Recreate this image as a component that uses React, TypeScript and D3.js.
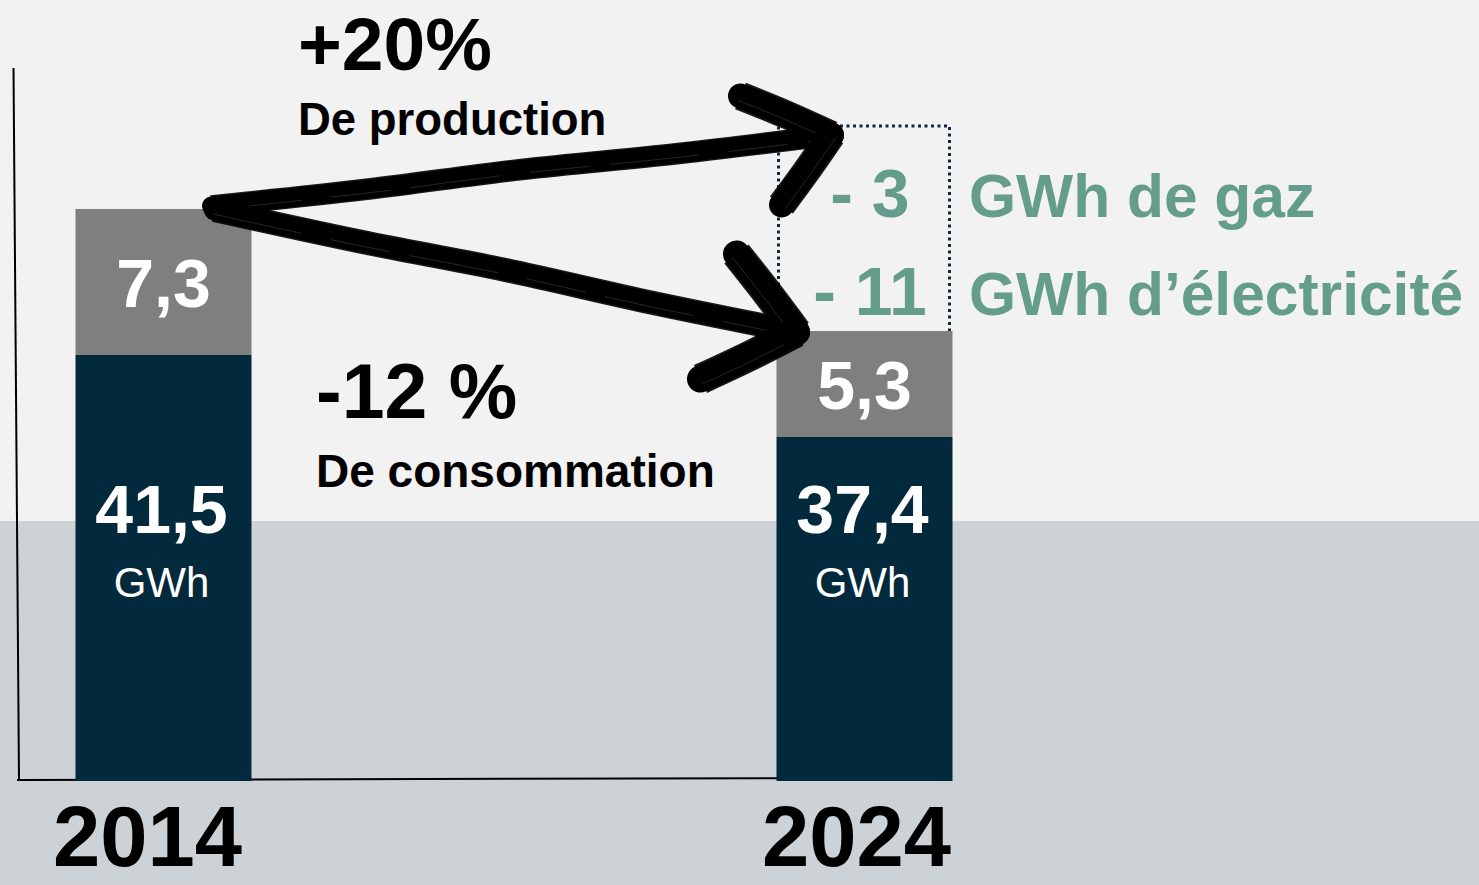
import React from 'react';
import * as d3 from 'd3';

// data
const years = ['2014', '2024'];
const electricite = [41.5, 37.4];
const gaz = [7.3, 5.3];
const unit = 'GWh';
const changeValues = ['+20%', '-12 %'];
const changeLabels = ['De production', 'De consommation'];
const savingValues = ['- 3', '- 11'];
const savingLabels = ['GWh de gaz', 'GWh d\u2019électricité'];

const W = 1479;
const H = 885;
const FONT = '"Liberation Sans", Arial, sans-serif';
const DARK = '#022a3c';
const GREY = '#7f7f7f';
const GREEN = '#659d8c';

const fr = d3.formatLocale({ decimal: ',', thousands: ' ', grouping: [3], currency: ['', ' €'] });
const fmt = fr.format('.1f');

type Pt = [number, number];

// brush-like stroke: a thick black line with a few rough passes
const BrushStroke = ({ pts, w }: { pts: Pt[]; w: number }) => {
    const line = d3.line<Pt>().curve(d3.curveCatmullRom);
    const dx = pts[pts.length - 1][0] - pts[0][0];
    const dy = pts[pts.length - 1][1] - pts[0][1];
    const len = Math.hypot(dx, dy);
    const nx = -dy / len, ny = dx / len;
    const shift = (k: number) => pts.map(p => [p[0] + nx * k, p[1] + ny * k] as Pt);
    return (
        <g>
            <path d={line(pts) || ''} stroke="#000" strokeWidth={w} fill="none" strokeLinecap="round" />
            <path d={line(shift(w * 0.32)) || ''} stroke="#000" strokeWidth={w * 0.5} fill="none" strokeLinecap="butt" opacity={0.9} />
            <path d={line(shift(-w * 0.32)) || ''} stroke="#000" strokeWidth={w * 0.5} fill="none" strokeLinecap="butt" opacity={0.9} />
            <path d={line(shift(w * 0.2)) || ''} stroke="#8a8a8a" strokeWidth={0.8} fill="none" opacity={0.35} strokeDasharray="90 30 60 20" />
        </g>
    );
};

const Arrow = ({ start, end, barbs, w }: { start: Pt; end: Pt; barbs: Pt[]; w: number }) => {
    const n = 4;
    const shaft: Pt[] = d3.range(n + 1).map(i => {
        const t = i / n;
        const wob = i === 0 || i === n ? 0 : (i % 2 ? 1 : -1);
        return [start[0] + (end[0] - start[0]) * t, start[1] + (end[1] - start[1]) * t + wob];
    });
    return (
        <g>
            <BrushStroke pts={shaft} w={w} />
            {barbs.map((b, i) => (
                <BrushStroke key={i} pts={[[end[0] + b[0], end[1] + b[1]], [end[0] + b[0] * 0.5, end[1] + b[1] * 0.5 + (i ? 1 : -1)], end]} w={w + 6} />
            ))}
        </g>
    );
};

export default function App() {
    const table = years.map((yr, i) => ({ year: yr, elec: electricite[i], gaz: gaz[i] }));
    const series = d3.stack<any>().keys(['elec', 'gaz'])(table);

    const x = d3.scalePoint<string>().domain(years).range([163.5, 864.5]);
    const barW = 176;
    // value axis is not drawn from zero in the source
    const y = d3.scaleLinear().domain([20.2, 48.8]).range([781, 209]).clamp(true);

    const totals = table.map(d => d.elec + d.gaz);
    const x0 = x(years[0])!;
    const x1 = x(years[1])!;
    const start: Pt = [x0 + barW / 2 - 40, y(totals[0]) - 3];
    const boxTop = 126;
    const boxLeft = x1 - barW / 2 + 2;
    const boxRight = x1 + barW / 2 - 3;
    const boxBottom = y(totals[1]);
    const end1: Pt = [boxLeft + 53, boxTop + 9];
    const end2: Pt = [x1 - barW / 2 + 20, y(totals[1]) + 1];

    return (
        <svg width={W} height={H} style={{ position: 'absolute', left: 0, top: 0 }} fontFamily={FONT}>
            <rect x={0} y={0} width={W} height={521} fill="#f2f2f2" />
            <rect x={0} y={521} width={W} height={H - 521} fill="#cdd2d6" />

            {/* axes */}
            <line x1={13.5} y1={68} x2={19} y2={780} stroke="#000" strokeWidth={2} />
            <line x1={17} y1={780} x2={860} y2={778} stroke="#000" strokeWidth={2} />

            {/* bars */}
            {series.map((s, si) => (
                <g key={s.key} fill={si === 0 ? DARK : GREY}>
                    {s.map((d, i) => (
                        <rect key={i} x={x(years[i])! - barW / 2} y={y(d[1])} width={barW} height={y(d[0]) - y(d[1])} />
                    ))}
                </g>
            ))}

            {/* labels in bars */}
            {series[1].map((d, i) => (
                <text key={'g' + i} x={x(years[i])!} y={(y(d[0]) + y(d[1])) / 2 + 25} textAnchor="middle"
                    fill="#fff" fontWeight="bold" fontSize={68}>{fmt(gaz[i])}</text>
            ))}
            {series[0].map((d, i) => (
                <g key={'e' + i}>
                    <text x={x(years[i])! - 2} y={533} textAnchor="middle" fill="#fff" fontWeight="bold" fontSize={68}>{fmt(electricite[i])}</text>
                    <text x={x(years[i])! - 2} y={597} textAnchor="middle" fill="#fff" fontSize={42}>{unit}</text>
                </g>
            ))}

            {/* years */}
            {years.map((yr, i) => (
                <text key={yr} x={x(yr)! - 16 + i * 8} y={866} textAnchor="middle" fontWeight="bold" fontSize={85} fill="#000">{yr}</text>
            ))}

            {/* dotted box */}
            <path d={`M${boxLeft},${boxBottom}V${boxTop}H${boxRight}V${boxBottom}`} fill="none"
                stroke="#0b2a3a" strokeWidth={3} strokeDasharray="3 3.5" />

            {/* savings */}
            {savingValues.map((v, i) => (
                <g key={v} fill={GREEN} fontWeight="bold">
                    <text x={(boxLeft + boxRight) / 2 + 6} y={217 + i * 98} textAnchor="middle" fontSize={68}>{v}</text>
                    <text x={969} y={217 + i * 98} fontSize={60.5}>{savingLabels[i]}</text>
                </g>
            ))}

            {/* change annotations */}
            <text x={298} y={70} fontWeight="bold" fontSize={75}>{changeValues[0]}</text>
            <text x={298} y={135} fontWeight="bold" fontSize={45.5}>{changeLabels[0]}</text>
            <text x={316} y={418} fontWeight="bold" fontSize={77}>{changeValues[1]}</text>
            <text x={316} y={487} fontWeight="bold" fontSize={46}>{changeLabels[1]}</text>

            {/* hand drawn arrows */}
            <Arrow start={start} end={end1} barbs={[[-91, -39], [-50, 70]]} w={19} />
            <Arrow start={[start[0] + 3, start[1] + 4]} end={end2} barbs={[[-60, -78], [-96, 47]]} w={21} />
        </svg>
    );
}
